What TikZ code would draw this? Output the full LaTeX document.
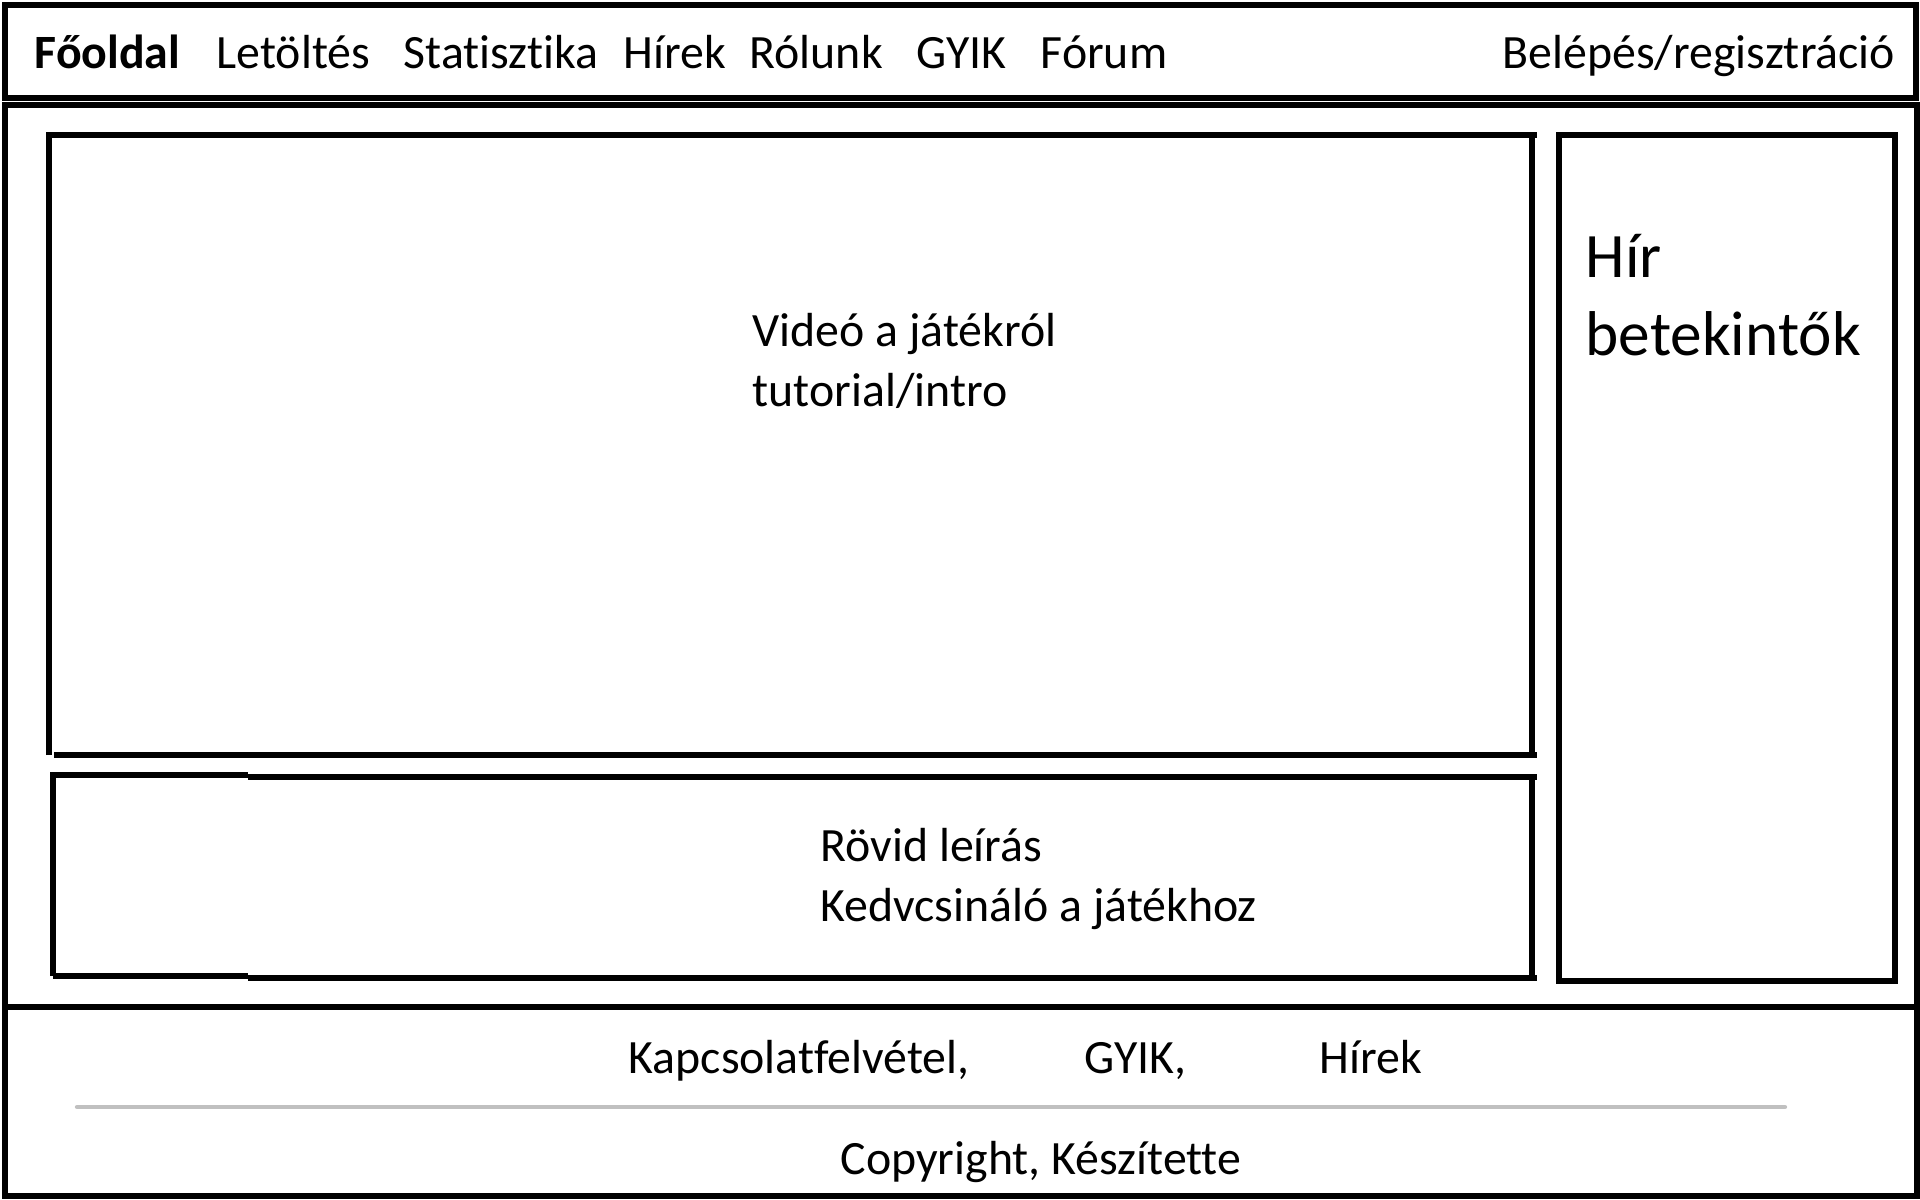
\documentclass[tikz,border=0pt]{standalone}
\usepackage{fontspec}
\setmainfont{Carlito}[Ligatures=NoCommon]
\usetikzlibrary{positioning}
\definecolor{RuleGray}{RGB}{192,192,192}
\tikzset{
  frame/.style={draw=black,line width=1.6pt},
  rule/.style={draw=RuleGray,line width=1.2pt,line cap=round},
  navtext/.style={anchor=base west,inner sep=0pt,
    font=\fontsize{13.6}{16.8}\selectfont},
  bodytext/.style={anchor=base west,inner sep=0pt,align=left,
    font=\fontsize{13.6}{16.8}\selectfont},
  bigtext/.style={anchor=base west,inner sep=0pt,align=left,
    font=\fontsize{18}{22}\selectfont},
}

\begin{document}
\begin{tikzpicture}[x=0.01cm,y=-0.01cm]
  \useasboundingbox (0,0) rectangle (1920,1200);
  \draw[frame] (5,5) rectangle (1916,98);
  \draw[frame] (5,105) rectangle (1917,1007);
  \draw[frame] (5,1007) rectangle (1917,1196);
  \draw[frame] (49,755) -- (49,135) -- (1537,135);
  \draw[frame] (1532,135) -- (1532,755);
  \draw[frame] (54,755) -- (1537,755);
  \draw[frame] (53,976) -- (53,775) -- (248,775);
  \draw[frame] (248,777) -- (1537,777);
  \draw[frame] (1532,777) -- (1532,977);
  \draw[frame] (53,976) -- (248,976);
  \draw[frame] (248,978) -- (1537,978);
  \draw[frame] (1559,135) rectangle (1895,981);
  \node[navtext,font=\fontsize{13.6}{16.8}\selectfont\bfseries] (fooldal) at (34,68) {Főoldal};
  \node[navtext] (letoltes) at (216,68) {Letöltés};
  \node[navtext] (statisztika) at (403,68) {Statisztika};
  \node[navtext] (hirek) at (623,68) {Hírek};
  \node[navtext] (rolunk) at (749,68) {Rólunk};
  \node[navtext] (gyik) at (916,68) {GYIK};
  \node[navtext] (forum) at (1040,68) {Fórum};
  \node[navtext] (belepes) at (1502,68) {Belépés/regisztráció};
  \node[bodytext] (video) at (752,406) {Videó a játékról\\tutorial/intro};
  \node[bodytext] (leiras) at (820,921) {Rövid leírás\\Kedvcsináló a játékhoz};
  \node[bigtext] (betekintok) at (1585,355) {Hír\\betekintők};
  \node[navtext] (kapcsolat) at (628,1073) {Kapcsolatfelvétel,};
  \node[navtext] (gyikfoot) at (1084,1073) {GYIK,};
  \node[navtext] (hirekfoot) at (1319,1073) {Hírek};
  \coordinate (ruleL) at (77,1107);
  \coordinate (ruleR) at (1785,1107);
  \draw[rule] (ruleL) -- (ruleR);
  \node[navtext] (copyright) at (840,1174) {Copyright, Készítette};
\end{tikzpicture}
\end{document}
